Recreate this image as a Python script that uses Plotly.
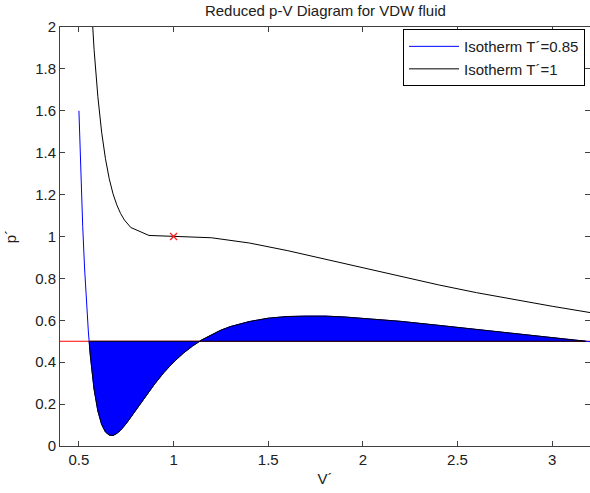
import plotly.graph_objects as go

# Reduced volume samples and pressures for the T'=0.85 isotherm
v_085 = [0.50, 0.51, 0.52, 0.53, 0.54, 0.55, 0.56, 0.58, 0.60, 0.62, 0.64, 0.66,
         0.68, 0.70, 0.72, 0.75, 0.80, 0.85, 0.90, 0.95, 1.00, 1.05, 1.10, 1.15,
         1.20, 1.25, 1.30, 1.40, 1.50, 1.60, 1.70, 1.80, 1.90, 2.00, 2.20, 2.40,
         2.60, 2.80, 3.00, 3.10, 3.20]
p_085 = [1.600, 1.296, 1.048, 0.845, 0.680, 0.544, 0.434, 0.271, 0.167, 0.103, 0.067, 0.052,
         0.050, 0.060, 0.075, 0.107, 0.170, 0.235, 0.296, 0.352, 0.400, 0.442, 0.477, 0.507,
         0.532, 0.553, 0.570, 0.594, 0.610, 0.618, 0.620, 0.620, 0.616, 0.610, 0.595, 0.576,
         0.556, 0.536, 0.517, 0.508, 0.498]

# Reduced volume samples and pressures for the T'=1 (critical) isotherm
v_1 = [0.56, 0.58, 0.60, 0.62, 0.64, 0.66, 0.68, 0.70, 0.72, 0.74, 0.774, 0.87,
       1.20, 1.40, 1.60, 1.80, 2.00, 2.20, 2.40, 2.60, 2.80, 3.00, 3.20]
p_1 = [2.199, 1.893, 1.667, 1.498, 1.372, 1.276, 1.204, 1.151, 1.110, 1.079, 1.043, 1.005,
       0.994, 0.969, 0.933, 0.892, 0.850, 0.809, 0.769, 0.732, 0.698, 0.667, 0.637]

# Coexistence pressure and where the T'=0.85 isotherm meets it
p_sat = 0.5
v_left, v_right = 0.554, 3.177

# Critical point
v_crit, p_crit = 1.0, 1.0

x_range = [0.4, 3.2]
y_range = [0, 2]
x_ticks = [0.5, 1, 1.5, 2, 2.5, 3]
y_ticks = [0, 0.2, 0.4, 0.6, 0.8, 1, 1.2, 1.4, 1.6, 1.8, 2]

# Closed region between the isotherm and the coexistence line
inner = [(v, p) for v, p in zip(v_085, p_085) if v_left < v < v_right]
fill_v = [v_left] + [v for v, _ in inner] + [v_right]
fill_p = [p_sat] + [p for _, p in inner] + [p_sat]
poly_v = fill_v + fill_v[::-1]
poly_p = fill_p + [p_sat] * len(fill_v)

font = "Liberation Sans, Arial, sans-serif"
txt = "#202020"
fsize = 15

fig = go.Figure()
fig.add_trace(go.Scatter(x=x_range, y=[p_sat, p_sat], mode="lines",
                         line=dict(color="#ff0000", width=1), showlegend=False,
                         hoverinfo="skip"))
fig.add_trace(go.Scatter(x=v_085, y=p_085, mode="lines", name="Isotherm T´=0.85",
                         line=dict(color="#0000ff", width=1)))
fig.add_trace(go.Scatter(x=v_1, y=p_1, mode="lines", name="Isotherm T´=1",
                         line=dict(color="#000000", width=1)))
fig.add_trace(go.Scatter(x=poly_v, y=poly_p, mode="lines", fill="toself",
                         fillcolor="#0000ff", line=dict(color="#000000", width=1),
                         showlegend=False, hoverinfo="skip"))
fig.add_trace(go.Scatter(x=[v_crit], y=[p_crit], mode="markers", showlegend=False,
                         marker=dict(symbol="x-thin", size=7, color="#ff2020",
                                     line=dict(color="#ff2020", width=1.3))))

axis_common = dict(showgrid=False, zeroline=False, showline=True, linecolor="#404040",
                   linewidth=1, ticks="inside", ticklen=5, tickcolor="#404040",
                   mirror="allticks", tickfont=dict(family=font, size=fsize, color=txt))

fig.update_layout(
    width=590, height=493,
    margin=dict(l=60, r=0, t=27, b=47),
    paper_bgcolor="white", plot_bgcolor="white",
    title=dict(text="Reduced p-V Diagram for VDW fluid", x=0.5515,
               xanchor="center", y=0.988, yanchor="top",
               font=dict(family=font, size=fsize, color=txt)),
    xaxis=dict(range=x_range, tickvals=x_ticks,
               title=dict(text="V´", standoff=6, font=dict(family=font, size=fsize, color=txt)),
               **axis_common),
    yaxis=dict(range=y_range, tickvals=y_ticks,
               title=dict(text="p´", standoff=14, font=dict(family=font, size=fsize, color=txt)),
               **axis_common),
    legend=dict(x=0.9906, xanchor="right", y=0.995, yanchor="top",
                bgcolor="white", bordercolor="#000000", borderwidth=1,
                itemwidth=50,
                font=dict(family=font, size=fsize, color=txt)),
)

fig.write_html("out.html")
